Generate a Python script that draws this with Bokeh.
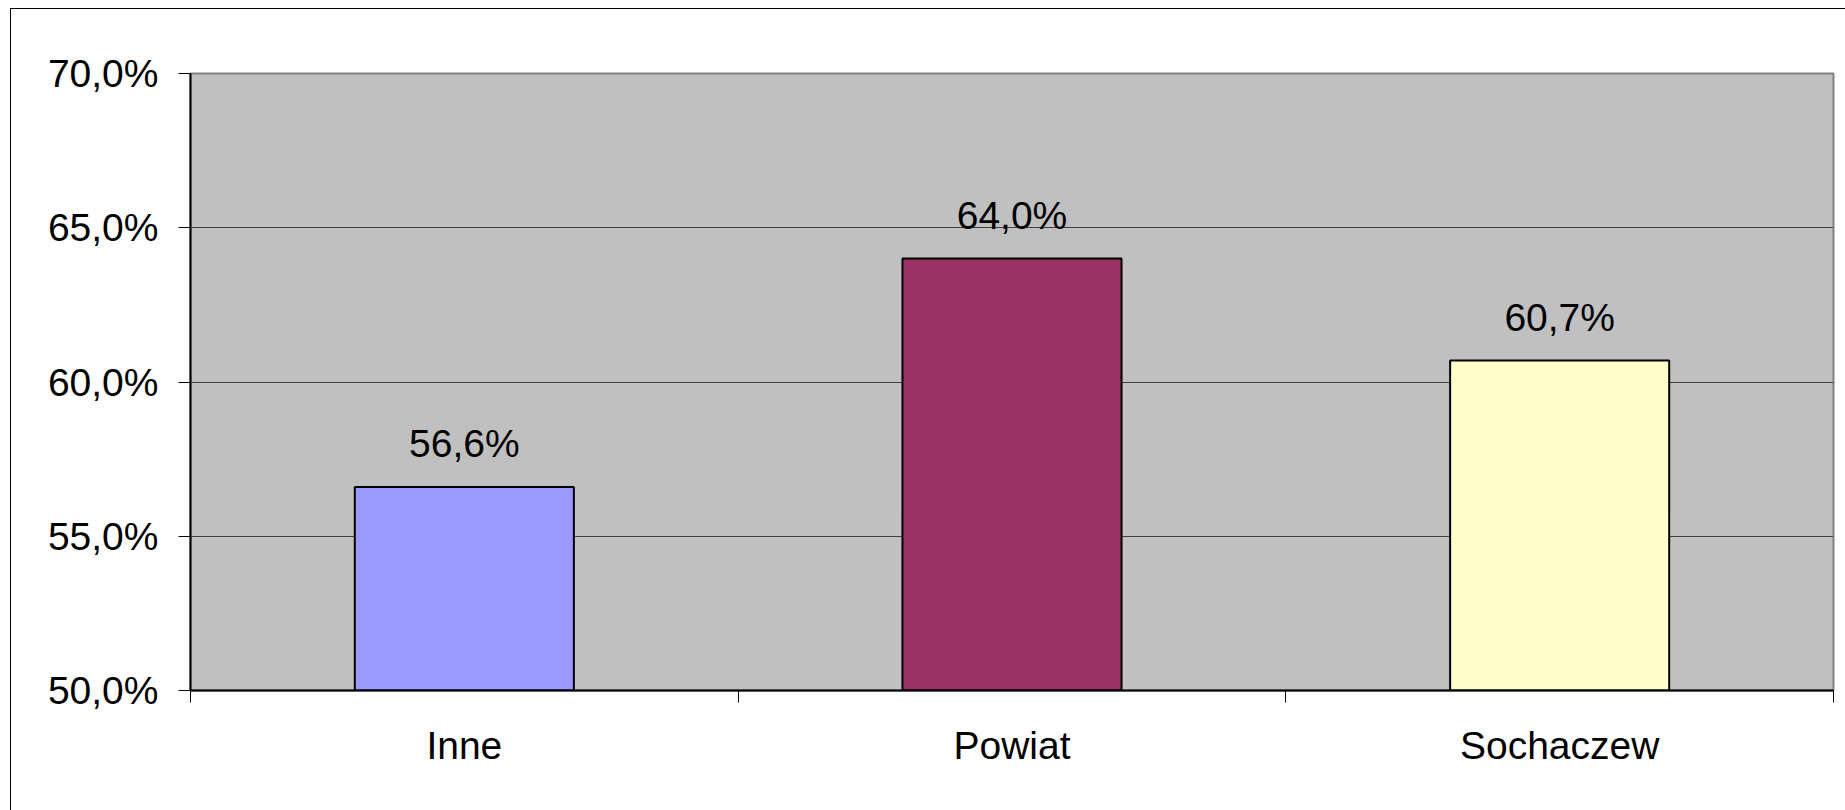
from bokeh.plotting import figure
from bokeh.models import ColumnDataSource, FixedTicker, Range1d, LinearAxis
from bokeh.core.properties import value
from bokeh.embed import file_html
from bokeh.resources import INLINE

categories = ["Inne", "Powiat", "Sochaczew"]
values = [0.566, 0.640, 0.607]
colors = ["#9999FF", "#993366", "#FFFFCC"]
y_ticks = [0.50, 0.55, 0.60, 0.65, 0.70]
y_tick_labels = ["50,0%", "55,0%", "60,0%", "65,0%", "70,0%"]

FONT = "Liberation Sans"
FS = "39px"

xs = [i + 0.5 for i in range(len(categories))]
labels = [("%.1f" % (v * 100)).replace(".", ",") + "%" for v in values]
src = ColumnDataSource(dict(x=xs, top=values, color=colors, label=labels))

p = figure(width=1835, height=802, output_backend="svg", toolbar_location=None,
           x_range=Range1d(0, len(categories)), y_range=Range1d(0.5, 0.7),
           x_axis_location=None, y_axis_location=None,
           min_border_left=179, min_border_top=64, min_border_right=13, min_border_bottom=121)
p.margin = (8, 0, 0, 10)
p.styles = {"border-left": "1px solid black", "border-top": "1px solid black"}

p.background_fill_color = "#C0C0C0"
p.border_fill_color = "white"
p.outline_line_color = "#808080"
p.outline_line_width = 2

p.xgrid.visible = False
p.ygrid.ticker = FixedTicker(ticks=y_ticks)
p.ygrid.grid_line_color = "#404040"
p.ygrid.grid_line_width = 1

p.vbar(x="x", top="top", bottom=0.5, width=0.4, fill_color="color",
       line_color="black", line_width=2, source=src)

p.text(x="x", y="top", text="label", source=src, text_font=value(FONT),
       text_font_size=value(FS), text_align="center", text_baseline="alphabetic",
       y_offset=-43, text_color="black")

yaxis = LinearAxis(ticker=FixedTicker(ticks=y_ticks, minor_ticks=[]),
                   major_label_overrides={t: l for t, l in zip(y_ticks, y_tick_labels)})
yaxis.axis_line_color = "black"
yaxis.axis_line_width = 2
yaxis.major_tick_in = 0
yaxis.major_tick_out = 12
yaxis.major_tick_line_color = "black"
yaxis.major_label_standoff = 20
yaxis.major_label_text_font = FONT
yaxis.major_label_text_font_size = FS
yaxis.major_label_text_color = "black"
p.add_layout(yaxis, "left")

xaxis = LinearAxis(ticker=FixedTicker(ticks=xs, minor_ticks=[float(i) for i in range(len(categories) + 1)]),
                   major_label_overrides={x: c for x, c in zip(xs, categories)})
xaxis.axis_line_color = "black"
xaxis.axis_line_width = 2
xaxis.major_tick_in = 0
xaxis.major_tick_out = 0
xaxis.minor_tick_in = 0
xaxis.minor_tick_out = 12
xaxis.minor_tick_line_color = "black"
xaxis.major_label_standoff = 21
xaxis.major_label_text_font = FONT
xaxis.major_label_text_font_size = FS
xaxis.major_label_text_color = "black"
p.add_layout(xaxis, "below")

open("out.html", "w").write(file_html(p, INLINE))
